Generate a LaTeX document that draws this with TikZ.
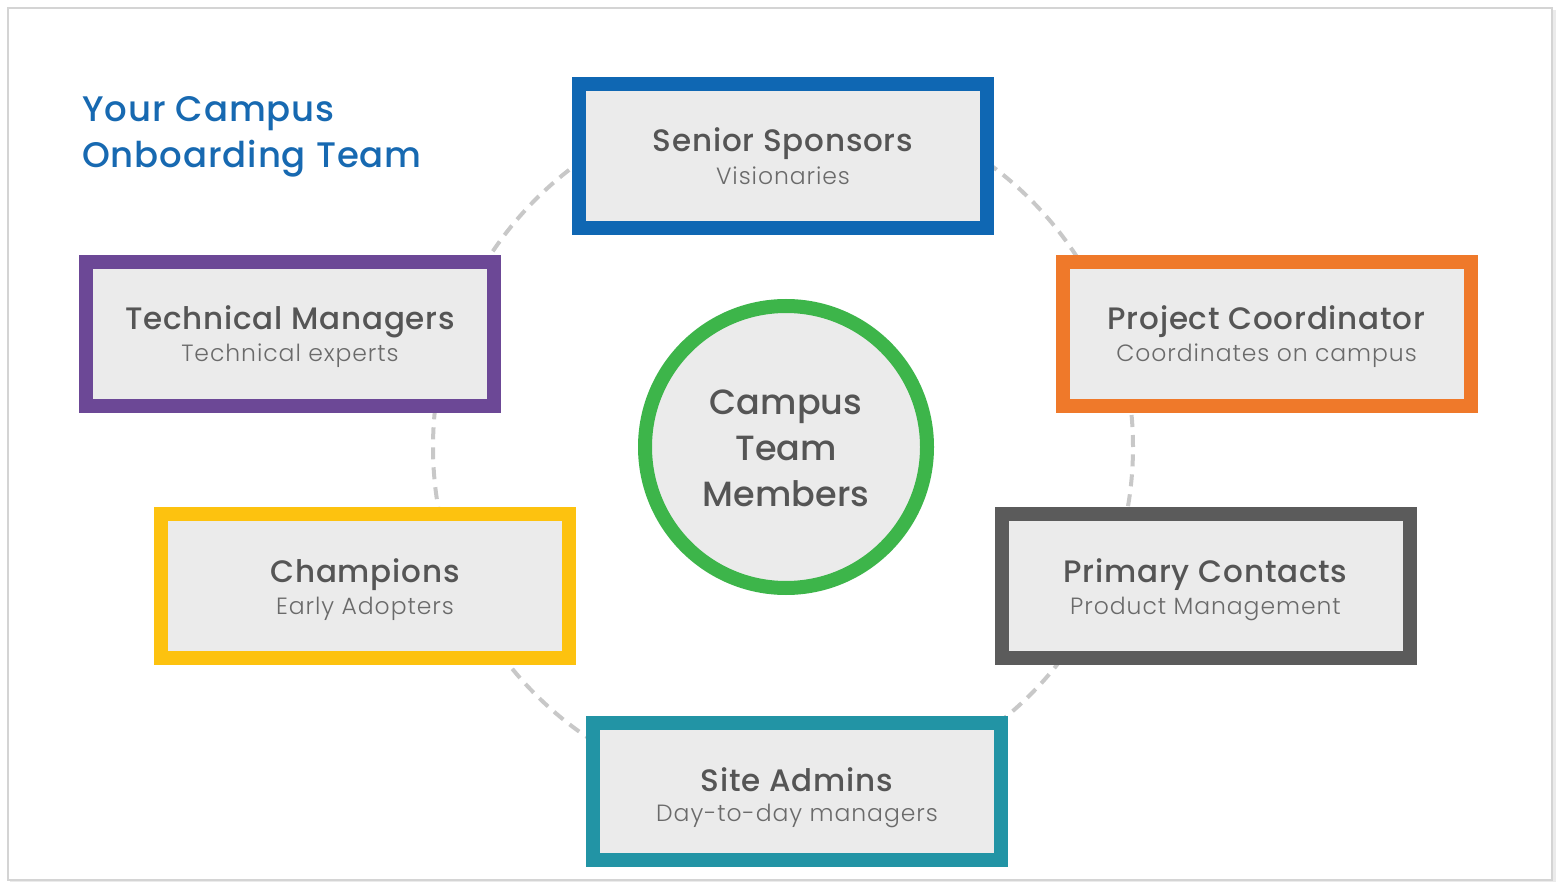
\documentclass[tikz,border=0pt]{standalone}
\usepackage{fontspec}
\setmainfont{Poppins}
\newfontfamily\lightfont{Poppins Light}[LetterSpace=4]
\newfontfamily\medfont{Poppins Medium}[LetterSpace=2.5]
\newfontfamily\medfontc{Poppins Medium}
\definecolor{frameg}{HTML}{D4D4D4}
\definecolor{ringg}{HTML}{C8C8C8}
\definecolor{boxfill}{HTML}{EBEBEB}
\definecolor{txt}{HTML}{555555}
\definecolor{subtxt}{HTML}{6A6A6A}
\definecolor{titleblue}{HTML}{1769B1}
\definecolor{cblue}{HTML}{0F67B3}
\definecolor{cpurple}{HTML}{6C4896}
\definecolor{corange}{HTML}{EF792A}
\definecolor{cyellow}{HTML}{FDC20F}
\definecolor{cgrey}{HTML}{5B5B5B}
\definecolor{cteal}{HTML}{2294A5}
\definecolor{cgreen}{HTML}{3DB54A}
\tikzset{
  rolebox/.style={rectangle, draw=#1, fill=boxfill, line width=14pt,
    minimum width=408pt, minimum height=144pt, inner sep=0pt},
  roletitle/.style={anchor=base, inner sep=0pt, text=txt, font=\medfont\fontsize{31}{36}\selectfont},
  rolesub/.style={anchor=base, inner sep=0pt, text=subtxt, font=\lightfont\fontsize{23.5}{26}\selectfont},
  centertxt/.style={anchor=base, inner sep=0pt, text=txt, font=\medfontc\fontsize{35}{42}\selectfont},
  headtxt/.style={anchor=base west, inner sep=0pt, text=titleblue, font=\medfont\fontsize{35.5}{42}\selectfont},
}
\begin{document}
\begin{tikzpicture}[x=1pt,y=-1pt]
\useasboundingbox (0,0) rectangle (1559,882);
\fill[white] (0,0) rectangle (1559,882);
% frame with soft shadow
\fill[black!8] (10,10) rectangle (1556,884);
\fill[white] (8,8) rectangle (1552,880);
\draw[frameg, line width=1.5pt] (8,8) rectangle (1552,880);
% dashed ring
\draw[ringg, line width=4pt, dash pattern=on 12pt off 8pt] (783,447) circle[radius=350pt];
% title
\node[headtxt] (h1) at (82,122) {Your Campus};
\node[headtxt] (h2) at (82,168) {Onboarding Team};
% centre
\node[circle, draw=cgreen, fill=boxfill, line width=14pt, minimum size=282pt, inner sep=0pt] (c) at (786,447) {};
\node[centertxt] (c1) at (786,415) {Campus};
\node[centertxt] (c2) at (786,461) {Team};
\node[centertxt] (c3) at (786,507) {Members};
% boxes
\node[rolebox=cblue] (ss) at (783,156.5) {};
\node[roletitle] (ss-t) at ([yshift=4.5pt]ss.center) {Senior Sponsors};
\node[rolesub] (ss-s) at ([yshift=-28pt]ss.center) {Visionaries};

\node[rolebox=cpurple] (tm) at (290,334) {};
\node[roletitle] (tm-t) at ([yshift=4pt]tm.center) {Technical Managers};
\node[rolesub] (tm-s) at ([yshift=-28pt]tm.center) {Technical experts};

\node[rolebox=corange] (pc) at (1266.5,334) {};
\node[roletitle] (pc-t) at ([yshift=4pt]pc.center) {Project Coordinator};
\node[rolesub] (pc-s) at ([yshift=-28pt]pc.center) {Coordinates on campus};

\node[rolebox=cyellow] (ch) at (365,586) {};
\node[roletitle] (ch-t) at ([yshift=4pt]ch.center) {Champions};
\node[rolesub] (ch-s) at ([yshift=-28pt]ch.center) {Early Adopters};

\node[rolebox=cgrey] (pr) at (1205.5,586) {};
\node[roletitle] (pr-t) at ([yshift=4pt]pr.center) {Primary Contacts};
\node[rolesub] (pr-s) at ([yshift=-28pt]pr.center) {Product Management};

\node[rolebox=cteal, minimum height=137pt] (sa) at (797,791.5) {};
\node[roletitle] (sa-t) at ([yshift=0pt]sa.center) {Site Admins};
\node[rolesub] (sa-s) at ([yshift=-30pt]sa.center) {Day-to-day managers};
\end{tikzpicture}
\end{document}
